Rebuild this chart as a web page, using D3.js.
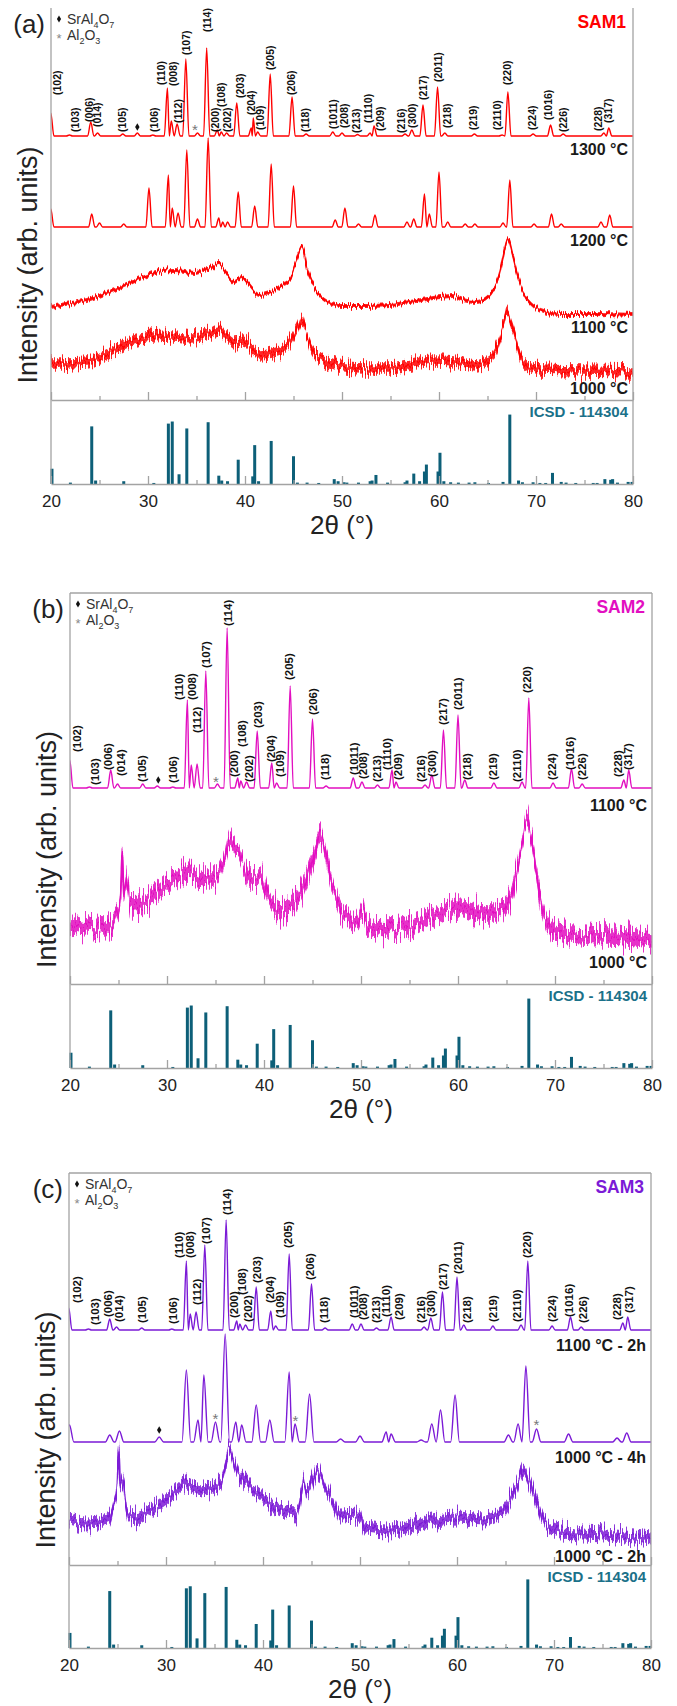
<!DOCTYPE html>
<html><head><meta charset="utf-8">
<script src="https://cdn.jsdelivr.net/npm/d3@7"></script>
<style>
html,body{margin:0;padding:0;background:#fff;}
svg{display:block;font-family:"Liberation Sans",Arial,Helvetica,sans-serif;}
</style></head><body>
<svg id="chart" width="677" height="1706"></svg>
<script>
// ---------------- DATA ----------------
const xTickValues = [20, 30, 40, 50, 60, 70, 80];
const xMinorTicks = [25, 35, 45, 55, 65, 75];

// ICSD - 114304 reference pattern (2θ, relative intensity)
const icsdTwoTheta = [20.1,22.0,24.2,24.6,27.5,30.6,32.1,32.5,33.2,34.0,36.2,37.3,37.6,38.2,39.3,40.8,41.0,41.4,42.7,45.0,45.4,46.4,47.6,49.2,49.6,50.2,50.5,51.7,52.9,53.1,53.5,54.7,56.5,56.7,57.4,58.0,58.5,58.7,59.9,60.1,60.5,61.2,62.0,63.1,63.7,65.1,66.6,67.3,68.2,68.6,69.7,70.4,71.0,71.7,72.6,73.1,74.1,75.9,76.3,77.1,77.7,77.9,78.4,79.5,79.9];
const icsdIntensity = [22,2,83,5,4,1.5,87,90,14,80,89,12,5,4,35,11,56,4,62,40,2,2,1.5,7,4,2.5,2,2,4,5,13,2,2.5,5,15,4,18,28,18,45,4,2.5,2,2,2.5,1.5,3,100,5,2.5,2.5,1.5,1.5,16,3,2,1.5,1.5,1.5,7,6,7,2,3,3];

// crystalline patterns: peaks [2θ, intensity above the pattern's baseline]
const sam1_1300C = [[19.98,23],[21.9,1],[24.1,14],[24.8,3],[27.4,2],[28.9,3],[30.5,1],[32.0,48],[32.4,15],[33.0,12],[33.9,77],[35.1,3],[36.05,88],[37.15,6],[37.55,4],[38.1,3],[39.15,33],[40.65,8],[40.85,18],[41.3,4],[42.6,62],[44.85,39],[46.3,2],[49.05,4],[50.0,3],[51.6,1.5],[52.9,3],[53.3,10],[56.5,2],[57.2,6],[58.35,31],[59.85,49],[60.6,3],[63.65,2],[66.5,1],[67.1,44],[69.7,2],[71.5,11],[72.8,2],[77.0,3],[77.5,8]];
const sam1_1200C = [[19.98,18],[24.2,13],[25.0,4],[27.5,3],[30.1,39],[32.1,52],[32.5,19],[33.1,14],[34.0,77],[35.1,8],[36.2,89],[37.3,9],[37.7,5],[38.2,5],[39.3,35],[41.0,21],[42.7,63],[45.0,41],[49.3,7],[50.3,19],[51.7,3],[53.4,12],[56.7,5],[57.4,8],[58.5,33],[59.0,13],[60.0,55],[60.9,5],[62.7,3],[63.7,3],[66.6,4],[67.3,47],[69.8,3],[71.6,13],[72.6,3],[76.7,5],[77.6,12]];
const sam2_1100C = [[19.98,28],[22.0,1],[24.2,18],[24.9,4],[27.5,4],[29.0,2],[30.6,1],[32.1,88],[32.5,23],[33.1,24],[34.0,117],[35.2,4],[36.2,160],[37.3,10],[37.6,7],[38.2,6],[39.3,57],[40.8,25],[41.3,5],[42.7,102],[45.0,69],[46.4,2],[49.2,10],[50.1,6],[51.7,3],[53.2,18],[53.6,6],[56.6,3],[57.3,13],[58.5,58],[60.0,73],[60.7,8],[63.7,5],[66.6,6],[67.3,90],[69.8,5],[71.7,19],[72.8,4],[77.1,8],[77.6,18]];
const sam3_1100C2h = [[19.98,22],[22.0,1],[24.2,11],[24.9,3],[27.5,2],[30.6,1],[32.1,69],[32.5,16],[33.1,18],[34.0,85],[36.2,110],[37.3,9],[37.6,6],[38.2,5],[39.3,43],[40.8,19],[41.3,4],[42.7,76],[45.0,46],[46.4,2],[49.2,6],[50.1,6],[51.7,2],[53.2,13],[56.6,3],[57.3,12],[58.5,38],[60.0,53],[60.7,5],[63.7,4],[66.6,5],[67.3,69],[69.8,4],[71.7,13],[72.8,3],[77.1,7],[77.6,13]];
const sam3_1000C4h = [[20.05,17],[24.2,7],[25.2,11],[29.3,5],[32.1,72],[33.3,22],[33.9,67],[35.1,20],[36.1,108],[37.2,20],[37.8,17],[39.3,37],[40.7,22],[42.7,70],[43.3,18],[44.8,48],[48.0,3],[50.0,6],[52.7,10],[53.2,8],[56.3,2],[57.4,18],[58.3,32],[59.8,47],[65.3,7],[66.3,18],[67.1,76],[68.2,13],[71.5,8],[76.5,4],[77.5,9]];

// poorly crystalline / noisy patterns: mean trace [2θ, intensity] (noise half-amplitude set per series)
const sam1_1100C = [[20,8],[21.5,11],[23.7,15],[25.5,21],[27.3,28],[29.9,39],[31.5,44],[32.6,45],[33.8,44],[34.8,42],[35.8,45],[36.6,48],[37.3,52],[37.9,45],[38.5,36],[38.9,33],[39.7,38],[40.4,30],[41.5,20],[42.5,22],[43.8,30],[44.6,35],[45.3,55],[45.9,69],[46.4,47],[47.3,25],[48.2,15],[50,9],[52.5,9],[54.9,10],[57,13],[59.4,17],[61.4,19],[62.5,15],[63.8,13],[65.0,18],[65.6,25],[66.2,40],[66.6,58],[67.1,77],[67.6,60],[68.1,40],[68.7,22],[69.5,11],[70.5,5],[72.7,1],[76,1],[80,0]];
const sam1_1000C = [[20,9],[21.5,9],[23.7,10],[25.5,17],[28.2,30],[30.5,35],[32.6,36],[34.8,34],[36.3,38],[37.3,42],[38.2,34],[38.9,29],[39.8,30],[40.6,24],[41.5,17],[42.8,19],[43.8,22],[44.8,33],[45.4,44],[45.9,54],[46.4,38],[46.9,22],[47.8,14],[48.7,9],[50.4,5],[52.5,4],[54.9,4],[57.2,8],[59.4,12],[61.6,11],[63.8,6],[64.8,10],[65.6,17],[66.2,30],[66.6,44],[67.0,60],[67.4,50],[67.8,38],[68.2,22],[68.7,10],[69.5,5],[70.5,2],[75,1],[80,0]];
const sam2_1000C = [[20,17],[21,13],[21.8,12],[23.6,10],[24.3,16],[24.8,25],[25.2,40],[25.4,88],[25.55,45],[25.9,65],[26.2,35],[27.6,37],[28.7,45],[29.8,53],[31.0,62],[32.0,68],[33.0,66],[33.8,62],[35.1,62],[35.8,75],[36.5,100],[37.0,92],[37.4,88],[38.0,72],[38.5,62],[39.1,62],[39.6,66],[40.5,42],[41.2,33],[41.8,30],[43.1,37],[44.0,52],[44.5,65],[45.3,88],[45.8,104],[46.3,88],[46.7,70],[47.3,48],[48.0,30],[48.8,22],[49.4,17],[50.2,30],[50.5,18],[51.2,13],[52.9,10],[55.2,13],[57.4,23],[58.8,30],[60.1,33],[61.8,28],[63.0,27],[64.1,27],[64.8,33],[65.4,43],[66.0,65],[66.5,90],[67.1,120],[67.6,100],[67.9,80],[68.4,45],[69.0,23],[69.6,12],[70.3,8],[73.0,5],[77.4,3],[80,0]];
const sam3_1000C2h = [[20,20],[21.8,17],[24.0,20],[24.5,30],[24.9,50],[25.15,92],[25.3,55],[25.6,60],[25.8,40],[26.1,23],[28.4,30],[30.6,45],[32.0,55],[33.8,50],[35.6,57],[36.1,72],[36.5,92],[37.0,78],[37.4,68],[38.5,55],[39.6,46],[40.7,37],[41.8,30],[43.6,27],[44.2,60],[44.5,48],[45.0,55],[45.6,70],[46.2,58],[46.7,48],[47.3,35],[48.0,23],[50.0,24],[50.3,17],[50.7,12],[52.9,10],[55.2,13],[57.4,20],[60.1,23],[62.7,20],[64.2,25],[65.0,33],[65.7,45],[66.3,57],[66.8,70],[67.3,62],[67.8,50],[68.1,42],[68.7,25],[69.4,13],[70.7,7],[75.2,5],[80,0]];

// Miller-index labels: [hkl, 2θ, level above labelled pattern baseline]
const hklLabelsA = [["(102)",20.6,41],["(103)",22.5,4],["(006)",23.9,14],["(014)",24.8,9],["(105)",27.4,4],["(106)",30.7,4],["(110)",31.4,51],["(008)",32.6,50],["(112)",33.1,13],["(107)",34.0,81],["(114)",36.1,104],["(200)",36.9,4],["(108)",37.6,29],["(202)",38.2,4],["(203)",39.5,38],["(204)",40.7,21],["(109)",41.6,6],["(205)",42.6,66],["(206)",44.8,41],["(118)",46.2,4],["(1011)",49.1,7],["(208)",50.2,8],["(213)",51.5,3],["(1110)",52.7,13],["(209)",53.9,5],["(216)",56.1,3],["(300)",57.2,8],["(217)",58.4,36],["(2011)",59.9,54],["(218)",60.9,8],["(219)",63.5,6],["(2110)",66.0,6],["(220)",67.0,51],["(224)",69.6,6],["(1016)",71.3,16],["(226)",72.8,4],["(228)",76.4,5],["(317)",77.5,13]];
const hklLabelsB = [["(102)",20.7,36],["(103)",22.6,3],["(006)",23.9,18],["(014)",25.3,12],["(105)",27.4,6],["(106)",30.6,5],["(110)",31.2,88],["(008)",32.6,88],["(112)",33.1,55],["(107)",34.0,120],["(114)",36.3,162],["(200)",36.9,11],["(108)",37.7,41],["(202)",38.4,6],["(203)",39.4,60],["(204)",40.7,26],["(109)",41.6,11],["(205)",42.6,108],["(206)",45.0,73],["(118)",46.3,8],["(1011)",49.3,13],["(208)",50.2,9],["(213)",51.6,6],["(1110)",52.7,18],["(209)",53.8,8],["(216)",56.2,6],["(300)",57.3,11],["(217)",58.5,63],["(2011)",60.0,78],["(218)",60.9,8],["(219)",63.6,8],["(2110)",66.1,6],["(220)",67.1,95],["(224)",69.7,8],["(1016)",71.5,18],["(226)",72.8,8],["(228)",76.5,11],["(317)",77.5,18]];
const hklLabelsC = [["(102)",20.8,27],["(103)",22.7,5],["(006)",24.0,13],["(014)",25.1,8],["(105)",27.5,7],["(106)",30.7,6],["(110)",31.3,72],["(008)",32.5,72],["(112)",33.2,25],["(107)",34.1,86],["(114)",36.3,115],["(200)",37.0,12],["(108)",37.8,35],["(202)",38.4,8],["(203)",39.4,47],["(204)",40.7,27],["(109)",41.8,12],["(205)",42.6,82],["(206)",44.8,50],["(118)",46.3,7],["(1011)",49.4,12],["(208)",50.3,10],["(213)",51.6,7],["(1110)",52.7,13],["(209)",54.0,10],["(216)",56.3,7],["(300)",57.3,13],["(217)",58.6,40],["(2011)",60.1,56],["(218)",61.0,7],["(219)",63.7,8],["(2110)",66.2,8],["(220)",67.2,72],["(224)",69.8,8],["(1016)",71.5,13],["(226)",73.0,7],["(228)",76.5,10],["(317)",77.7,17]];

// secondary phase markers: [type, 2θ, level above pattern baseline]  (d = SrAl4O7, s = Al2O3)
const markersA1300 = [["d",28.9,9],["s",34.85,9]];
const markersB1100 = [["d",29.1,8],["s",35.05,9]];
const markersC1000_4h = [["d",29.3,12],["s",35.1,26],["s",43.35,24],["s",68.2,20]];

// ---------------- LAYOUT ----------------
const panels = [
  {letter:"(a)", sample:"SAM1", color:"#ff0000", left:51, right:633, top:8, mid:400, bottom:484, topBorder:false,
   labelFont:10.5, hkl:hklLabelsA, hklSeries:0,
   series:[
     {kind:"sharp", data:sam1_1300C, offset:264, foot:0.32, name:"1300 °C", ly:155, markers:markersA1300},
     {kind:"sharp", data:sam1_1200C, offset:173, foot:0.32, name:"1200 °C", ly:246},
     {kind:"noisy", data:sam1_1100C, offset:85, noise:3.5, name:"1100 °C", ly:333},
     {kind:"noisy", data:sam1_1000C, offset:28, noise:8, name:"1000 °C", ly:394}
   ]},
  {letter:"(b)", sample:"SAM2", color:"#e20fc0", left:70, right:652, top:593, mid:984, bottom:1068, topBorder:true,
   labelFont:11.5, hkl:hklLabelsB, hklSeries:0,
   series:[
     {kind:"sharp", data:sam2_1100C, offset:196, foot:0.32, name:"1100 °C", ly:811, markers:markersB1100},
     {kind:"noisy", data:sam2_1000C, offset:44, noise:13, name:"1000 °C", ly:968}
   ]},
  {letter:"(c)", sample:"SAM3", color:"#7b1ad6", left:69, right:651, top:1173, mid:1565, bottom:1648, topBorder:true,
   labelFont:11.5, hkl:hklLabelsC, hklSeries:0,
   series:[
     {kind:"sharp", data:sam3_1100C2h, offset:235, foot:0.32, name:"1100 °C - 2h", ly:1351},
     {kind:"sharp", data:sam3_1000C4h, offset:123, foot:0.45, name:"1000 °C - 4h", ly:1463, markers:markersC1000_4h},
     {kind:"noisy", data:sam3_1000C2h, offset:25, noise:9, name:"1000 °C - 2h", ly:1562}
   ]}
];

const axisColor = "#a3a3a3";
const icsdColor = "#0d5f78";
const icsdTextColor = "#1b7189";
const svg = d3.select("#chart");
const defs = svg.append("defs");

// texture filter that gives the noisy traces a jagged, counting-noise look (rendering effect only)
function jitterFilter(id, scale, seed) {
  const f = defs.append("filter").attr("id", id)
    .attr("x", "-2%").attr("y", "-40%").attr("width", "104%").attr("height", "180%");
  f.append("feTurbulence").attr("type", "fractalNoise").attr("baseFrequency", "0.85 0.02")
    .attr("numOctaves", 2).attr("seed", seed).attr("result", "n");
  f.append("feColorMatrix").attr("in", "n").attr("type", "matrix")
    .attr("values", "0 0 0 0 0.5  0 1 0 0 0  0 0 1 0 0  0 0 0 0 1").attr("result", "m");
  f.append("feDisplacementMap").attr("in", "SourceGraphic").attr("in2", "m")
    .attr("scale", scale).attr("xChannelSelector", "R").attr("yChannelSelector", "G");
}

function sharpPoints(peaks, foot) {
  const pts = [[18, 0]];
  peaks.forEach((p, i) => {
    const prev = peaks[i - 1], next = peaks[i + 1];
    const wl = prev ? Math.min(foot, (p[0] - prev[0]) / 2) : foot;
    const wr = next ? Math.min(foot, (next[0] - p[0]) / 2) : foot;
    const lx = p[0] - wl;
    if (pts[pts.length - 1][0] < lx - 1e-6) pts.push([lx, 0]);
    pts.push([p[0], p[1]]);
    pts.push([p[0] + wr, 0]);
  });
  pts.push([82, 0]);
  return pts;
}

let filterCount = 0;
panels.forEach((P, pi) => {
  const g = svg.append("g");
  const x = d3.scaleLinear().domain([20, 80]).range([P.left, P.right]);
  const y = d3.scaleLinear().domain([0, P.mid - P.top]).range([P.mid, P.top]);
  const yI = d3.scaleLinear().domain([0, 121]).range([P.bottom, P.mid]);

  const clipId = "clip" + pi;
  defs.append("clipPath").attr("id", clipId).append("rect")
    .attr("x", P.left).attr("y", P.top - 20).attr("width", P.right - P.left).attr("height", P.mid - P.top + 20);

  // patterns
  const plot = g.append("g").attr("clip-path", `url(#${clipId})`);
  P.series.forEach(s => {
    if (s.kind === "sharp") {
      const pts = sharpPoints(s.data, s.foot);
      plot.append("path").datum(pts)
        .attr("fill", "none").attr("stroke", P.color).attr("stroke-width", 1.4).attr("stroke-linejoin", "round")
        .attr("d", d3.line().x(d => x(d[0])).y(d => y(s.offset + d[1])).curve(d3.curveMonotoneX));
    } else {
      const fid = "jit" + (filterCount++);
      jitterFilter(fid, s.noise * 3.0, 7 + filterCount * 5);
      const ng = plot.append("g").attr("filter", `url(#${fid})`);
      ng.append("path").datum(s.data)
        .attr("fill", P.color).attr("fill-opacity", 0.85).attr("stroke", "none")
        .attr("d", d3.area().x(d => x(d[0]))
          .y0(d => y(s.offset + d[1] - s.noise * 0.6)).y1(d => y(s.offset + d[1] + s.noise * 0.6))
          .curve(d3.curveMonotoneX));
      ng.append("path").datum(s.data)
        .attr("fill", "none").attr("stroke", P.color).attr("stroke-width", 1.8)
        .attr("d", d3.line().x(d => x(d[0])).y(d => y(s.offset + d[1])).curve(d3.curveMonotoneX));
    }
    // temperature label
    g.append("text").attr("x", P.right - 5).attr("y", s.ly)
      .attr("text-anchor", "end").attr("font-size", 16).attr("font-weight", "bold").attr("fill", "#1a1a1a")
      .text(s.name);
    // phase markers
    (s.markers || []).forEach(m => {
      const mx = x(m[1]), my = y(s.offset + m[2]);
      if (m[0] === "d") {
        g.append("path").attr("transform", `translate(${mx},${my})`)
          .attr("d", d3.symbol(d3.symbolDiamond).size(17)()).attr("fill", "#111");
      } else {
        g.append("text").attr("x", mx).attr("y", my + 8).attr("text-anchor", "middle")
          .attr("font-size", 15).attr("fill", "#777").text("*");
      }
    });
  });

  // hkl labels
  const ls = P.series[P.hklSeries];
  P.hkl.forEach(l => {
    g.append("text")
      .attr("transform", `translate(${x(l[1])},${y(ls.offset + l[2])}) rotate(-90)`)
      .attr("dy", "0.35em").attr("font-size", P.labelFont).attr("font-weight", "bold").attr("fill", "#111")
      .text(l[0]);
  });

  // ICSD bars
  g.append("g").selectAll("rect").data(icsdTwoTheta).join("rect")
    .attr("x", d => x(d) - 1.5).attr("width", 3)
    .attr("y", (d, i) => yI(icsdIntensity[i]))
    .attr("height", (d, i) => yI(0) - yI(icsdIntensity[i]))
    .attr("fill", icsdColor);

  // frame
  const frame = g.append("g").attr("stroke", axisColor).attr("stroke-width", 1.3).attr("fill", "none");
  frame.append("line").attr("x1", P.left).attr("x2", P.left).attr("y1", P.top).attr("y2", P.bottom);
  frame.append("line").attr("x1", P.right).attr("x2", P.right).attr("y1", P.top).attr("y2", P.bottom);
  if (P.topBorder) frame.append("line").attr("x1", P.left).attr("x2", P.right).attr("y1", P.top).attr("y2", P.top);

  // axes (ticks inward)
  function styleAxis(sel) {
    sel.selectAll(".domain").attr("stroke", axisColor).attr("stroke-width", 1.3);
    sel.selectAll(".tick line").attr("stroke", axisColor).attr("stroke-width", 1.3);
  }
  [P.mid, P.bottom].forEach((yy, k) => {
    const major = g.append("g").attr("transform", `translate(0,${yy})`)
      .call(d3.axisBottom(x).tickValues(xTickValues).tickSizeInner(-8).tickSizeOuter(0).tickPadding(11)
        .tickFormat(k === 1 ? d3.format("d") : () => ""));
    styleAxis(major);
    major.selectAll("text").attr("font-size", 17).attr("fill", "#222")
      .attr("font-family", "Liberation Sans, Arial, sans-serif");
    const minor = g.append("g").attr("transform", `translate(0,${yy})`)
      .call(d3.axisBottom(x).tickValues(xMinorTicks).tickSizeInner(-4).tickSizeOuter(0).tickFormat(() => ""));
    styleAxis(minor);
    minor.select(".domain").remove();
  });

  // texts
  g.append("text").attr("x", P.left - 6).attr("y", P.top + 25).attr("text-anchor", "end")
    .attr("font-size", 26).attr("fill", "#222").text(P.letter);
  g.append("text").attr("x", P.right - 7).attr("y", P.top + 20).attr("text-anchor", "end")
    .attr("font-size", 17.5).attr("font-weight", "bold").attr("fill", P.color).text(P.sample);
  g.append("text").attr("x", P.right - 5).attr("y", P.mid + 17).attr("text-anchor", "end")
    .attr("font-size", 15).attr("font-weight", "bold").attr("fill", icsdTextColor).text("ICSD - 114304");

  // legend
  g.append("path").attr("transform", `translate(${P.left + 8},${P.top + 11})`)
    .attr("d", d3.symbol(d3.symbolDiamond).size(15)()).attr("fill", "#111");
  const t1 = g.append("text").attr("x", P.left + 16).attr("y", P.top + 16).attr("font-size", 14).attr("fill", "#333");
  t1.append("tspan").text("SrAl");
  t1.append("tspan").attr("font-size", 9).attr("dy", 4).text("4");
  t1.append("tspan").attr("dy", -4).text("O");
  t1.append("tspan").attr("font-size", 9).attr("dy", 4).text("7");
  g.append("text").attr("x", P.left + 8).attr("y", P.top + 35).attr("text-anchor", "middle")
    .attr("font-size", 13).attr("fill", "#888").text("*");
  const t2 = g.append("text").attr("x", P.left + 16).attr("y", P.top + 32).attr("font-size", 14).attr("fill", "#333");
  t2.append("tspan").text("Al");
  t2.append("tspan").attr("font-size", 9).attr("dy", 4).text("2");
  t2.append("tspan").attr("dy", -4).text("O");
  t2.append("tspan").attr("font-size", 9).attr("dy", 4).text("3");

  // axis titles
  const cy = (P.top + P.mid) / 2 + 61;
  g.append("text").attr("transform", `translate(${P.left - 23},${cy}) rotate(-90)`)
    .attr("text-anchor", "middle").attr("dy", "0.35em").attr("font-size", 27).attr("fill", "#222")
    .text("Intensity (arb. units)");
  g.append("text").attr("x", (P.left + P.right) / 2).attr("y", P.bottom + 50).attr("text-anchor", "middle")
    .attr("font-size", 26).attr("fill", "#222").text("2θ (°)");
});
</script></body></html>
